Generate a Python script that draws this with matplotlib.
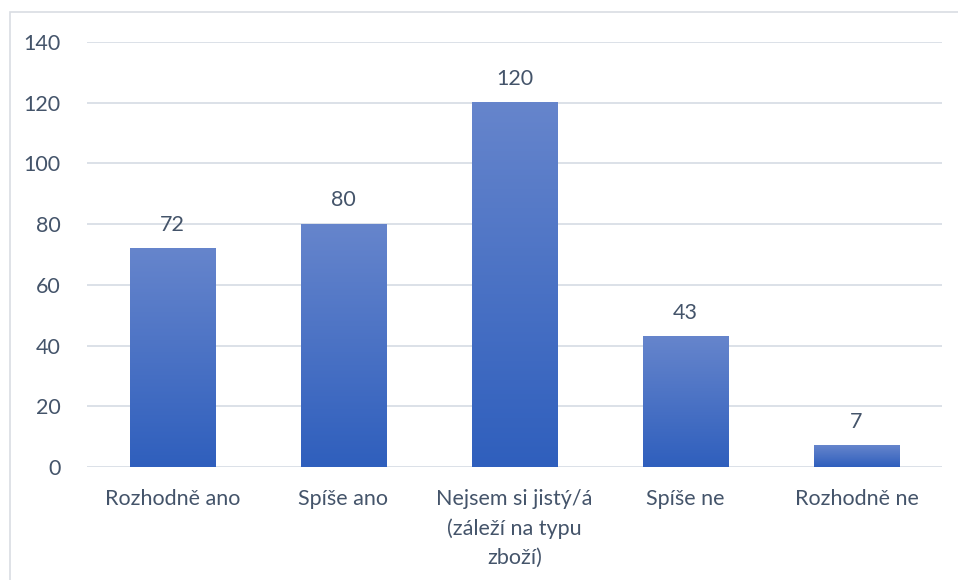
import matplotlib
matplotlib.use("Agg")
import matplotlib.pyplot as plt
import numpy as np
from matplotlib.colors import LinearSegmentedColormap
from matplotlib.patches import Rectangle

categories = ["Rozhodně ano", "Spíše ano", "Nejsem si jistý/á\n(záleží na typu\nzboží)", "Spíše ne", "Rozhodně ne"]
values = [72, 80, 120, 43, 7]
yticks = [0, 20, 40, 60, 80, 100, 120, 140]

plt.rcParams['font.family'] = ['Lato', 'DejaVu Sans']
text_color = '#44546A'
grid_color = '#DCE1E8'
fs = 15.5

fig = plt.figure(figsize=(9.58, 5.8), dpi=100)
# outer chart border
fig.patches.append(Rectangle((10/958, -0.05), 1.0, 1 - 12/580 + 0.05, transform=fig.transFigure,
                             fill=False, edgecolor='#D9DDE3', linewidth=1.2))
ax = fig.add_axes([87/958, 1 - 467/580, (942-87)/958, (467-42)/580])

x = np.arange(len(categories))
bars = ax.bar(x, values, width=0.5, color='none', zorder=3)
cmap = LinearSegmentedColormap.from_list('g', ['#2F5FBD', '#6685CC'])
grad = np.linspace(0, 1, 256).reshape(-1, 1)
for b in bars:
    x0, y0 = b.get_x(), b.get_y()
    w, h = b.get_width(), b.get_height()
    ax.imshow(grad, cmap=cmap, extent=[x0, x0 + w, y0, y0 + h], origin='lower',
              aspect='auto', zorder=3, interpolation='bilinear')
for xi, v in zip(x, values):
    ax.annotate(str(v), (xi, v), xytext=(0, 10), textcoords='offset points',
                ha='center', va='bottom', fontsize=fs, color=text_color)

ax.set_xlim(-0.5, len(categories) - 0.5)
ax.set_ylim(0, 140)
ax.set_yticks(yticks)
ax.set_xticks(x)
ax.set_xticklabels(categories, linespacing=1.55)
ax.tick_params(axis='both', length=0, labelsize=fs, labelcolor=text_color)
ax.tick_params(axis='x', pad=16)
ax.tick_params(axis='y', pad=19)
ax.grid(axis='y', color=grid_color, linewidth=1.4, zorder=0)
for s in ax.spines.values():
    s.set_visible(False)
ax.set_axisbelow(True)

fig.savefig("out.png", dpi=100)
